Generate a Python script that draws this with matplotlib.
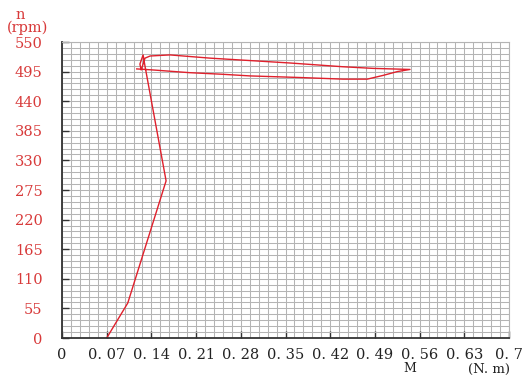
import matplotlib
matplotlib.use("Agg")
import matplotlib.pyplot as plt
from matplotlib.ticker import MultipleLocator, FixedLocator

# Data: torque M (N.m) vs speed n (rpm)
torque = [0.070, 0.103, 0.163, 0.130, 0.127, 0.122, 0.124, 0.130, 0.138, 0.169,
          0.232, 0.357, 0.440, 0.487, 0.545, 0.525, 0.503, 0.478, 0.440, 0.373,
          0.294, 0.252, 0.200, 0.143, 0.117]
speed = [0, 65, 292, 505, 526, 509, 498, 520, 524, 526,
         520, 511, 504, 501, 499, 495, 488, 481, 481, 484,
         487, 490, 493, 498, 500]

x_ticks = [0, 0.07, 0.14, 0.21, 0.28, 0.35, 0.42, 0.49, 0.56, 0.63, 0.7]
x_labels = ["0", "0. 07", "0. 14", "0. 21", "0. 28", "0. 35", "0. 42", "0. 49",
            "0. 56", "0. 63", "0. 7"]
y_ticks = [0, 55, 110, 165, 220, 275, 330, 385, 440, 495, 550]
y_labels = [str(v) for v in y_ticks]

W, H = 523, 378
fig = plt.figure(figsize=(W / 100, H / 100), dpi=100)
ax = fig.add_axes([62 / W, (H - 338) / H, 447 / W, 296 / H])

red = "#e0202c"
lab_red = "#d83a3a"
font = "DejaVu Serif"

ax.plot(torque, speed, color=red, lw=1.0)

ax.set_xlim(0, 0.7)
ax.set_ylim(0, 550)
ax.xaxis.set_major_locator(FixedLocator(x_ticks))
ax.yaxis.set_major_locator(FixedLocator(y_ticks))
ax.xaxis.set_minor_locator(MultipleLocator(0.014))
ax.yaxis.set_minor_locator(MultipleLocator(11))
ax.set_xticklabels(x_labels, fontfamily=font, fontsize=10.5, color="#222222")
ax.set_yticklabels(y_labels, fontfamily=font, fontsize=10.5, color=lab_red)

ax.grid(which="both", color="#b4b4b4", lw=0.75)
ax.set_axisbelow(True)
ax.tick_params(which="major", direction="in", length=5, width=1, color="#333333")
ax.tick_params(axis="x", which="major", pad=7)
ax.tick_params(axis="y", which="major", pad=14)
ax.tick_params(which="minor", length=0)

for s in ["left", "bottom"]:
    ax.spines[s].set_color("#333333")
    ax.spines[s].set_linewidth(1.3)
for s in ["top", "right"]:
    ax.spines[s].set_color("#b4b4b4")
    ax.spines[s].set_linewidth(0.8)

fig.text(20 / W, 1 - 15 / H, "n", fontfamily=font, fontsize=10.5, color=lab_red,
         ha="center", va="center")
fig.text(28 / W, 1 - 28 / H, "(rpm)", fontfamily=font, fontsize=10.5, color=lab_red,
         ha="center", va="center")
fig.text(410 / W, 1 - 369 / H, "M", fontfamily=font, fontsize=9, color="#222222",
         ha="center", va="center")
fig.text(489 / W, 1 - 369 / H, "(N. m)", fontfamily=font, fontsize=9.5, color="#222222",
         ha="center", va="center")

fig.savefig("out.png", dpi=100)
